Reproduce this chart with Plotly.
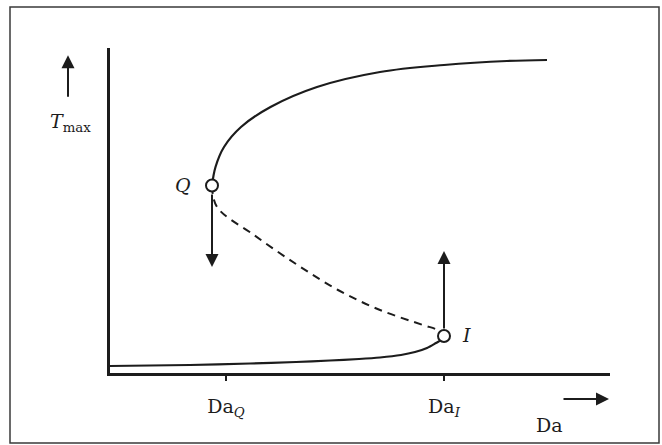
import plotly.graph_objects as go

# ---- data (Damköhler number Da vs. maximum temperature T_max) ----
lower_da = [0.0, 0.8, 1.4, 1.86, 2.2, 2.49, 2.7, 2.91, 3.05, 3.17, 3.26, 3.31, 3.34]
lower_t = [0.07, 0.08, 0.095, 0.11, 0.125, 0.14, 0.155, 0.18, 0.21, 0.25, 0.30, 0.33, 0.37]

upper_da = [1.02, 1.055, 1.14, 1.31, 1.605, 2.07, 2.70, 3.34, 3.97, 4.37]
upper_t = [1.875, 2.06, 2.26, 2.46, 2.66, 2.86, 3.01, 3.08, 3.12, 3.13]

middle_da = [1.02, 1.07, 1.44, 1.86, 2.28, 2.70, 3.13, 3.275, 3.34]
middle_t = [1.875, 1.66, 1.38, 1.09, 0.83, 0.63, 0.48, 0.43, 0.37]

point_names = ["Q", "I"]
point_da = [1.02, 3.34]
point_t = [1.875, 0.37]

tick_vals = [1.16, 3.34]
tick_text = ["Da<sub><i>Q</i></sub>", "Da<sub><i>I</i></sub>"]

# jump arrows: (Da, T tail, T tip)
jump_da = [1.02, 3.34]
jump_tail = [1.80, 0.43]
jump_tip = [1.06, 1.22]

FONT = "DejaVu Serif"
INK = "#1c1c1c"
FS = 19

fig = go.Figure()
fig.add_trace(go.Scatter(x=lower_da, y=lower_t, mode="lines",
                         line=dict(color=INK, width=2.2, shape="spline", smoothing=0.8), hoverinfo="skip"))
fig.add_trace(go.Scatter(x=upper_da, y=upper_t, mode="lines",
                         line=dict(color=INK, width=2.2, shape="spline"), hoverinfo="skip"))
fig.add_trace(go.Scatter(x=middle_da, y=middle_t, mode="lines",
                         line=dict(color=INK, width=2, dash="8px,6px", shape="spline"), hoverinfo="skip"))
fig.add_trace(go.Scatter(x=point_da, y=point_t, mode="markers",
                         marker=dict(symbol="circle", size=12, color="white",
                                     line=dict(color=INK, width=2)), hoverinfo="skip"))

annotations = []
for d, t0, t1 in zip(jump_da, jump_tail, jump_tip):
    annotations.append(dict(x=d, y=t1, ax=d, ay=t0, xref="x", yref="y", axref="x", ayref="y",
                            text="", showarrow=True, arrowhead=2, arrowsize=1.3,
                            arrowwidth=2, arrowcolor=INK, standoff=0))
# point labels
annotations.append(dict(x=point_da[0] - 0.29, y=point_t[0] + 0.01, xref="x", yref="y",
                        xanchor="center", yanchor="middle",
                        text="<i>" + point_names[0] + "</i>", showarrow=False,
                        font=dict(family=FONT, size=FS, color=INK)))
annotations.append(dict(x=point_da[1] + 0.22, y=point_t[1] + 0.01, xref="x", yref="y",
                        xanchor="center", yanchor="middle",
                        text="<i>" + point_names[1] + "</i>", showarrow=False,
                        font=dict(family=FONT, size=FS, color=INK)))
# axis titles with arrows
annotations.append(dict(x=-0.084, y=0.978, xref="paper", yref="paper", text="", showarrow=True,
                        ax=0, ay=43, arrowhead=2, arrowsize=1.3, arrowwidth=2, arrowcolor=INK, standoff=0))
annotations.append(dict(x=-0.08, y=0.772, xref="paper", yref="paper", xanchor="center", yanchor="middle",
                        text="<i>T</i><sub>max</sub>", showarrow=False,
                        font=dict(family=FONT, size=FS, color=INK)))
annotations.append(dict(x=0.998, y=-0.08, xref="paper", yref="paper", text="", showarrow=True,
                        ax=-47, ay=0, arrowhead=2, arrowsize=1.3, arrowwidth=2, arrowcolor=INK, standoff=0))
annotations.append(dict(x=0.878, y=-0.16, xref="paper", yref="paper", xanchor="center", yanchor="middle",
                        text="Da", showarrow=False,
                        font=dict(family=FONT, size=FS, color=INK)))

fig.update_layout(
    width=662, height=445,
    margin=dict(l=110, r=52, t=48, b=72),
    paper_bgcolor="white", plot_bgcolor="white",
    showlegend=False,
    annotations=annotations,
    shapes=[dict(type="rect", xref="paper", yref="paper", x0=-0.2, x1=1.098, y0=-0.215, y1=1.126,
                 line=dict(color="#3a3a3a", width=1.5), fillcolor="rgba(0,0,0,0)", layer="below")],
    xaxis=dict(range=[0, 5], showgrid=False, zeroline=False, showline=True, linecolor=INK, linewidth=2.5,
               tickmode="array", tickvals=tick_vals, ticktext=tick_text, ticks="outside",
               ticklen=5, tickwidth=2, tickcolor=INK, ticklabelstandoff=9,
               tickfont=dict(family=FONT, size=FS, color=INK)),
    yaxis=dict(range=[0, 3.25], showgrid=False, zeroline=False, showline=True, linecolor=INK, linewidth=2.5,
               showticklabels=False, ticks=""),
)

fig.write_html("out.html", config={"displayModeBar": False},
               post_script="document.body.style.margin='0';document.body.style.overflow='hidden';")
